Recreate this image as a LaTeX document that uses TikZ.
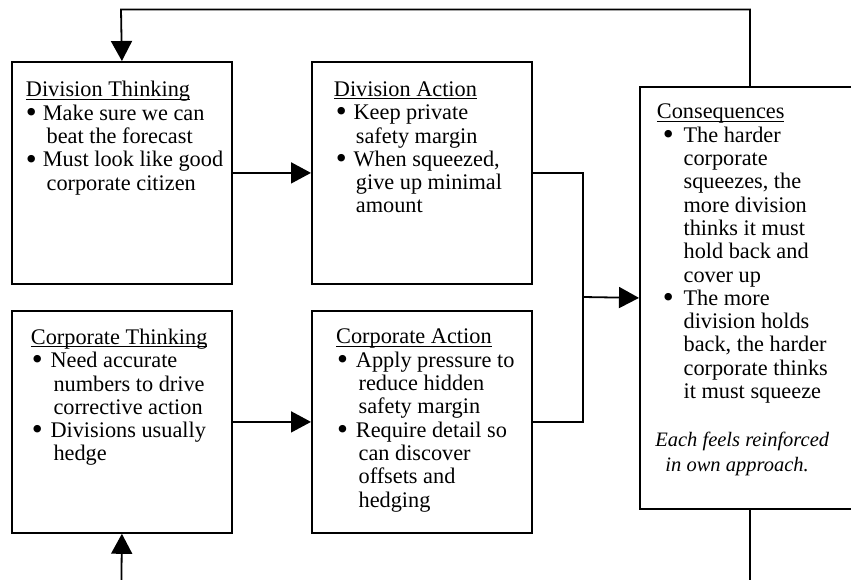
\documentclass[tikz,border=0pt]{standalone}
\usepackage{fontspec}
\setmainfont{Liberation Serif}
\usetikzlibrary{arrows.meta}

\newlength\bulx
\newlength\bult
\newlength\bulh
% box text: height, top gap, title indent, bullet x, text x, hang x, body
\newcommand{\boxtext}[7]{\parbox[t][#1][t]{220pt}{\fontsize{22.3}{23.3}\selectfont
    \leftskip=#3\relax\rightskip=0pt plus 1fil\relax
    \setlength\bulx{#4}\setlength\bult{#5}\setlength\bulh{#6}%
    \vspace*{#2}#7}}
\newcommand{\ttl}[1]{\noindent\rule{0pt}{20pt}\sbox0{#1}\rlap{\rule[-2.6pt]{\wd0}{0.9pt}}\usebox0\par}
\newcommand{\itm}[1]{\par\hangindent=\bulh\relax\hangafter=1\relax
    \noindent\hspace*{\bulx}\makebox[\dimexpr\bult-\bulx\relax][l]{\raisebox{-2.2pt}{\scalebox{1.4}{\textbullet}}}#1\par}

\tikzset{
    box/.style={draw, line width=1.8pt, inner sep=0pt, anchor=north west},
    arr/.style={line width=1.8pt, -{Triangle[length=20pt,width=21pt]}},
    link/.style={line width=1.8pt}
}

\begin{document}
\begin{tikzpicture}
    \useasboundingbox (0,0) rectangle (851pt,-579pt);
    \clip (0,0) rectangle (851pt,-579pt);

    % Draw the boxes
    \node[box] (dt) at (11pt,-61pt) {\boxtext{222pt}{15pt}{14pt}{0pt}{17pt}{20.7pt}{%
        \ttl{Division Thinking}
        \itm{Make sure we can\\ beat the forecast}
        \itm{Must look like good\\ corporate citizen}}};
    \node[box] (da) at (311pt,-61pt) {\boxtext{222pt}{14.5pt}{22pt}{2pt}{19.7pt}{22pt}{%
        \ttl{Division Action}
        \itm{Keep private\\ safety margin}
        \itm{When squeezed,\\ give up minimal\\ amount}}};
    \node[box] (ct) at (11pt,-310pt) {\boxtext{222pt}{13.5pt}{19pt}{1pt}{19.6pt}{22.6pt}{%
        \ttl{Corporate Thinking}
        \itm{Need accurate\\ numbers to drive\\ corrective action}
        \itm{Divisions usually\\ hedge}}};
    \node[box] (ca) at (311pt,-310pt) {\boxtext{222pt}{13pt}{24.3pt}{1pt}{19.7pt}{22.4pt}{%
        \ttl{Corporate Action}
        \itm{Apply pressure to\\ reduce hidden\\ safety margin}
        \itm{Require detail so\\ can discover\\ offsets and\\ hedging}}};
    \node[box] (cq) at (639pt,-86pt) {\boxtext{422pt}{12pt}{17pt}{6pt}{26.7pt}{26.7pt}{%
        \ttl{Consequences}
        \itm{The harder\\ corporate\\ squeezes, the\\ more division\\ thinks it must\\ hold back and\\ cover up}
        \itm{The more\\ division holds\\ back, the harder\\ corporate thinks\\ it must squeeze}
        \vspace{23pt}
        {\leftskip=0pt plus 1fil\relax\rightskip=0pt plus 1fil\relax
        \fontsize{20.5}{25}\selectfont\itshape Each feels reinforced\par in own approach.\par}}};

    % Corner points of the connectors
    \coordinate (merge) at (583pt,-297pt);
    \coordinate (topL) at (121pt,-9.5pt);
    \coordinate (botL) at (121pt,-620pt);

    % Draw the connectors
    \draw[arr] (dt.east) -- (da.west);
    \draw[arr] (ct.east) -- (ca.west);
    \draw[link] (da.east) -| (merge) |- (ca.east);
    \draw[arr] (merge) -- (cq.west);
    \draw[arr] (cq.north) |- (topL) -- (dt.north);
    \draw[arr] (cq.south) |- (botL) -- (ct.south);
\end{tikzpicture}
\end{document}
